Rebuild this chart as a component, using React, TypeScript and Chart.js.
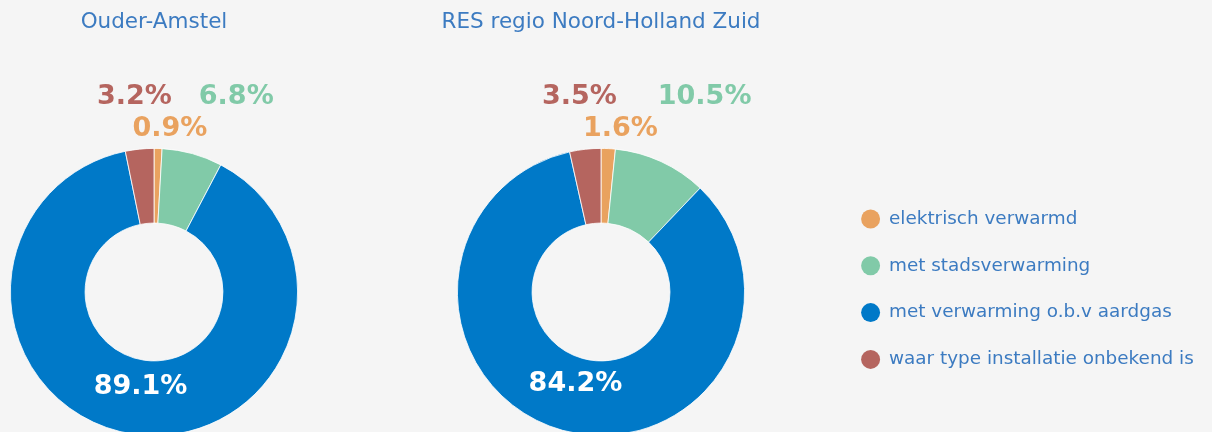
import React, { useEffect, useRef } from "react";
import { Chart, registerables } from "chart.js";

Chart.register(...registerables);

const categories = [
  "elektrisch verwarmd",
  "met stadsverwarming",
  "met verwarming o.b.v aardgas",
  "waar type installatie onbekend is",
];
const regionTitles = ["Ouder-Amstel", "RES regio Noord-Holland Zuid"];
const ouderAmstelShares = [0.9, 6.8, 89.1, 3.2];
const resRegioShares = [1.6, 10.5, 84.2, 3.5];
const sliceColors = ["#e9a25f", "#81caa8", "#0079c8", "#b5655f"];

const TEXT_BLUE = "#3c7bc1";
const FONT = '"DejaVu Sans", Verdana, sans-serif';
const BG = "#f5f5f5";

const pctLabelPlugin = {
  id: "pctLabels",
  afterDatasetsDraw(chart: any) {
    const meta = chart.getDatasetMeta(0);
    const data: number[] = chart.data.datasets[0].data;
    const colors: string[] = chart.data.datasets[0].backgroundColor;
    const total = data.reduce((a, b) => a + b, 0);
    const ctx = chart.ctx;
    ctx.save();
    ctx.font = `bold 27px ${FONT}`;
    ctx.textAlign = "center";
    ctx.textBaseline = "middle";
    const outside: any[] = [];
    let cx = 0;
    let cy = 0;
    let outerR = 0;
    meta.data.forEach((arc: any, i: number) => {
      const p = arc.getProps(
        ["x", "y", "startAngle", "endAngle", "innerRadius", "outerRadius"],
        true
      );
      cx = p.x;
      cy = p.y;
      outerR = p.outerRadius;
      const mid = (p.startAngle + p.endAngle) / 2;
      const share = data[i] / total;
      const text = data[i].toFixed(1) + "%";
      if (share > 0.2) {
        const r = ((p.innerRadius + p.outerRadius) / 2) * 0.9;
        ctx.fillStyle = "#ffffff";
        ctx.fillText(text, p.x + Math.cos(mid) * r, p.y + Math.sin(mid) * r);
      } else {
        let fromTop = mid + Math.PI / 2;
        while (fromTop > Math.PI) fromTop -= Math.PI * 2;
        while (fromTop < -Math.PI) fromTop += Math.PI * 2;
        outside.push({ text, color: colors[i], fromTop, w: ctx.measureText(text).width, x: 0 });
      }
    });
    outside.sort((a, b) => Math.abs(a.fromTop) - Math.abs(b.fromTop));
    const rows: any[][] = [[], []];
    outside.forEach((l, k) => rows[k === 0 ? 0 : 1].push(l));
    rows.forEach((row, r) => {
      const y = cy - outerR - 19 - r * 32;
      const d = cy - y;
      row.forEach((l) => {
        l.x = cx + d * Math.tan(l.fromTop);
        if (l.fromTop >= 0) l.x += 0.15 * l.w;
      });
      row.sort((a, b) => a.x - b.x);
      for (let k = 1; k < row.length; k++) {
        const prev = row[k - 1];
        const minX = prev.x + (prev.w + row[k].w) / 2 + 27;
        if (row[k].x < minX) row[k].x = minX;
      }
      row.forEach((l) => {
        ctx.fillStyle = l.color;
        ctx.fillText(l.text, l.x, y);
      });
    });
    ctx.restore();
  },
};

function DonutChart({ title, values, left }: { title: string; values: number[]; left: number }) {
  const ref = useRef<HTMLCanvasElement>(null);
  useEffect(() => {
    const chart = new Chart(ref.current as HTMLCanvasElement, {
      type: "doughnut",
      data: {
        labels: categories,
        datasets: [
          {
            data: values,
            backgroundColor: sliceColors,
            borderColor: "#ffffff",
            borderWidth: 0.8,
            hoverOffset: 0,
          },
        ],
      },
      options: {
        responsive: false,
        animation: false,
        devicePixelRatio: 1,
        events: [],
        cutout: "48%",
        layout: { padding: 0 },
        plugins: {
          legend: { display: false },
          tooltip: { enabled: false },
          title: {
            display: true,
            text: title,
            color: TEXT_BLUE,
            font: { family: FONT, size: 21.5, weight: "normal", lineHeight: 1.2 },
            padding: { top: 10, bottom: 112.2 },
          },
        },
      } as any,
      plugins: [pctLabelPlugin],
    });
    return () => chart.destroy();
  }, []);
  return (
    <canvas
      ref={ref}
      width={400}
      height={436}
      style={{ position: "absolute", left, top: 0, width: 400, height: 436 }}
    />
  );
}

function LegendChart({ left }: { left: number }) {
  const ref = useRef<HTMLCanvasElement>(null);
  useEffect(() => {
    const chart = new Chart(ref.current as HTMLCanvasElement, {
      type: "doughnut",
      data: {
        labels: categories,
        datasets: [
          {
            data: ouderAmstelShares,
            backgroundColor: sliceColors,
            borderWidth: 0,
            hoverOffset: 0,
          },
        ],
      },
      options: {
        responsive: false,
        animation: false,
        devicePixelRatio: 1,
        events: [],
        radius: 0,
        layout: { padding: { top: 146.4, left: 0, right: 0, bottom: 0 } },
        plugins: {
          tooltip: { enabled: false },
          title: { display: false },
          legend: {
            display: true,
            position: "left",
            align: "center",
            labels: {
              usePointStyle: true,
              pointStyle: "circle",
              boxHeight: 13.4,
              boxWidth: 18.4,
              padding: 28.4,
              color: TEXT_BLUE,
              font: { family: FONT, size: 18.4 },
            },
          },
        },
      } as any,
    });
    return () => chart.destroy();
  }, []);
  return (
    <canvas
      ref={ref}
      width={800}
      height={432}
      style={{ position: "absolute", left, top: 0, width: 800, height: 432 }}
    />
  );
}

export default function App() {
  return (
    <div
      style={{
        position: "fixed",
        left: 0,
        top: 0,
        width: 1212,
        height: 432,
        overflow: "hidden",
        background: BG,
      }}
    >
      <DonutChart title={regionTitles[0]} values={ouderAmstelShares} left={-46} />
      <DonutChart title={regionTitles[1]} values={resRegioShares} left={401} />
      <LegendChart left={833} />
    </div>
  );
}
